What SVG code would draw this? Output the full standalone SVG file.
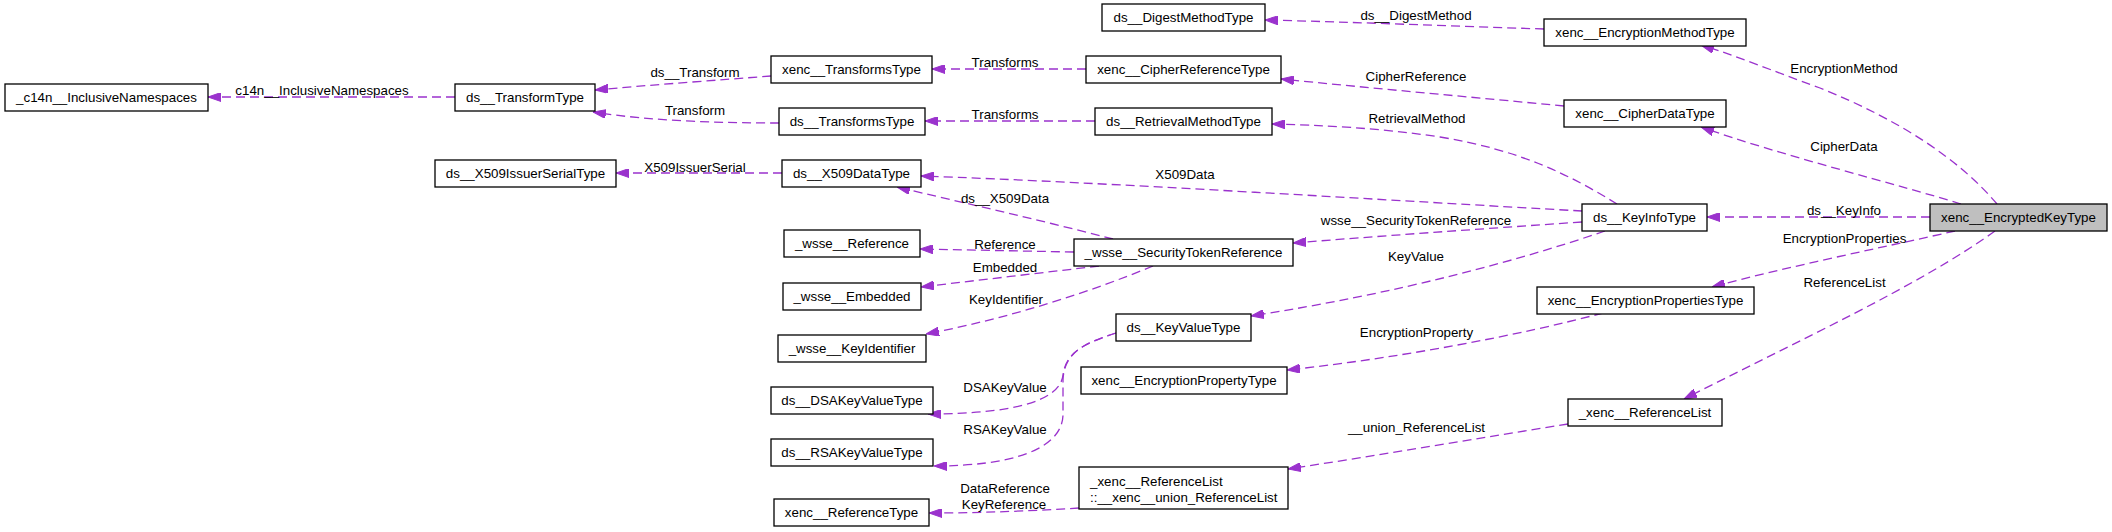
<svg xmlns="http://www.w3.org/2000/svg" width="2112" height="532" viewBox="0 0 2112 532">
<style>
text{font-family:"Liberation Sans",Arial,Helvetica,sans-serif;font-size:13.33px;fill:#000}
.n rect{fill:#fff;stroke:#000;stroke-width:1.3}
.n text{text-anchor:middle}
#n25 rect{fill:#bfbfbf}
.e path{fill:none;stroke:#9a32cd;stroke-width:1.3;stroke-dasharray:9,5;marker-end:url(#ah)}
.e text{text-anchor:middle}
</style>
<defs>
<marker id="ah" viewBox="0 0 13 9" refX="13" refY="4.5" markerWidth="13" markerHeight="9" markerUnits="userSpaceOnUse" orient="auto">
<path d="M0,0 L13,4.5 L0,9 z" fill="#9a32cd" stroke="#9a32cd" stroke-width="1"/>
</marker>
</defs>
<rect width="2112" height="532" fill="#fff"/>
<g id="edges" class="e">
<path d="M455,97 L208,97"/><text x="322" y="95">c14n__InclusiveNamespaces</text>
<path d="M771,76 C720,80 650,85 595,90"/><text x="695" y="76.5">ds__Transform</text>
<path d="M779,123 C720,123 650,121 593,112"/><text x="695" y="114.5">Transform</text>
<path d="M1086,69 L932,69"/><text x="1005" y="66.5">Transforms</text>
<path d="M1095,121 L925,121"/><text x="1005" y="118.5">Transforms</text>
<path d="M782,173 L616,173"/><text x="695" y="171.5">X509IssuerSerial</text>
<path d="M1544,29 C1450,26 1350,22 1265,20"/><text x="1416" y="19.5">ds__DigestMethod</text>
<path d="M1564,106 C1470,97 1370,88 1281,79"/><text x="1416" y="80.5">CipherReference</text>
<path d="M1617,204 C1570,175 1520,150 1440,137 C1380,128 1320,125 1272,124"/><text x="1417" y="122.5">RetrievalMethod</text>
<path d="M1582,211 C1400,201 1100,182 921,176"/><text x="1185" y="178.5">X509Data</text>
<path d="M1582,222 C1480,229 1380,236 1293,243"/><text x="1416" y="224.5">wsse__SecurityTokenReference</text>
<path d="M1605,231 C1520,260 1400,293 1251,316"/><text x="1416" y="260.5">KeyValue</text>
<path d="M1113,239 C1040,220 960,202 897,187"/><text x="1005" y="202.5">ds__X509Data</text>
<path d="M1074,252 C1020,251 970,250 920,249"/><text x="1005" y="248.5">Reference</text>
<path d="M1099,266 C1040,273 980,280 921,287"/><text x="1005" y="271.5">Embedded</text>
<path d="M1153,266 C1090,292 1010,318 926,334"/><text x="1006" y="303.5">KeyIdentifier</text>
<path d="M1116,333 C1085,343 1066,352 1063,375 C1060,402 1010,414 928,414"/><text x="1005" y="391.5">DSAKeyValue</text>
<path d="M1116,333 C1085,343 1064,352 1063,380 L1063,415 C1062,450 1010,466 934,466"/><text x="1005" y="433.5">RSAKeyValue</text>
<path d="M1079,508 C1030,511 980,513 929,513"/><text x="1005" y="492.5">DataReference</text><text x="1004" y="508.5">KeyReference</text>
<path d="M1997,204 C1960,160 1900,120 1820,88 C1770,70 1740,57 1701,45"/><text x="1844" y="72.5">EncryptionMethod</text>
<path d="M1961,204 C1900,185 1780,155 1701,127"/><text x="1844" y="150.5">CipherData</text>
<path d="M1930,217 L1707,217"/><text x="1844" y="214.5">ds__KeyInfo</text>
<path d="M1955,231 C1880,248 1790,266 1712,287"/><text x="1844.5" y="242.5">EncryptionProperties</text>
<path d="M1995,231 C1920,285 1800,340 1684,399"/><text x="1844.5" y="286.5">ReferenceList</text>
<path d="M1603,313 C1520,335 1400,358 1287,370"/><text x="1416.5" y="336.5">EncryptionProperty</text>
<path d="M1568,424 C1480,438 1380,455 1288,469"/><text x="1416.5" y="431.5">__union_ReferenceList</text>
</g>
<g id="n1" class="n"><rect x="5" y="84" width="203" height="27"/><text x="106.5" y="102">_c14n__InclusiveNamespaces</text></g>
<g id="n2" class="n"><rect x="455" y="84" width="140" height="27"/><text x="525" y="102">ds__TransformType</text></g>
<g id="n3" class="n"><rect x="435" y="160" width="181" height="27"/><text x="525.5" y="178">ds__X509IssuerSerialType</text></g>
<g id="n4" class="n"><rect x="771" y="56" width="161" height="27"/><text x="851.5" y="74">xenc__TransformsType</text></g>
<g id="n5" class="n"><rect x="779" y="108" width="146" height="27"/><text x="852" y="126">ds__TransformsType</text></g>
<g id="n6" class="n"><rect x="782" y="160" width="139" height="27"/><text x="851.5" y="178">ds__X509DataType</text></g>
<g id="n7" class="n"><rect x="784" y="230" width="136" height="27"/><text x="852" y="248">_wsse__Reference</text></g>
<g id="n8" class="n"><rect x="783" y="283" width="138" height="27"/><text x="852" y="301">_wsse__Embedded</text></g>
<g id="n9" class="n"><rect x="778" y="335" width="148" height="27"/><text x="852" y="353">_wsse__KeyIdentifier</text></g>
<g id="n10" class="n"><rect x="771" y="387" width="162" height="27"/><text x="852" y="405">ds__DSAKeyValueType</text></g>
<g id="n11" class="n"><rect x="771" y="439" width="162" height="27"/><text x="852" y="457">ds__RSAKeyValueType</text></g>
<g id="n12" class="n"><rect x="774" y="499" width="155" height="27"/><text x="851.5" y="517">xenc__ReferenceType</text></g>
<g id="n13" class="n"><rect x="1102" y="4" width="163" height="27"/><text x="1183.5" y="22">ds__DigestMethodType</text></g>
<g id="n14" class="n"><rect x="1086" y="56" width="195" height="27"/><text x="1183.5" y="74">xenc__CipherReferenceType</text></g>
<g id="n15" class="n"><rect x="1095" y="108" width="177" height="27"/><text x="1183.5" y="126">ds__RetrievalMethodType</text></g>
<g id="n16" class="n"><rect x="1074" y="239" width="219" height="27"/><text x="1183.5" y="257">_wsse__SecurityTokenReference</text></g>
<g id="n17" class="n"><rect x="1116" y="314" width="135" height="27"/><text x="1183.5" y="332">ds__KeyValueType</text></g>
<g id="n18" class="n"><rect x="1081" y="367" width="206" height="27"/><text x="1184" y="385">xenc__EncryptionPropertyType</text></g>
<g id="n19" class="n"><rect x="1079" y="467" width="209" height="42"/><text x="1090" y="485.5" style="text-anchor:start">_xenc__ReferenceList</text><text x="1090" y="501.5" style="text-anchor:start">::__xenc__union_ReferenceList</text></g>
<g id="n20" class="n"><rect x="1544" y="19" width="202" height="27"/><text x="1645" y="37">xenc__EncryptionMethodType</text></g>
<g id="n21" class="n"><rect x="1564" y="100" width="162" height="27"/><text x="1645" y="118">xenc__CipherDataType</text></g>
<g id="n22" class="n"><rect x="1582" y="204" width="125" height="27"/><text x="1644.5" y="222">ds__KeyInfoType</text></g>
<g id="n23" class="n"><rect x="1537" y="287" width="217" height="27"/><text x="1645.5" y="305">xenc__EncryptionPropertiesType</text></g>
<g id="n24" class="n"><rect x="1568" y="399" width="154" height="27"/><text x="1645" y="417">_xenc__ReferenceList</text></g>
<g id="n25" class="n"><rect x="1930" y="204" width="177" height="27"/><text x="2018.5" y="222">xenc__EncryptedKeyType</text></g>
</svg>
